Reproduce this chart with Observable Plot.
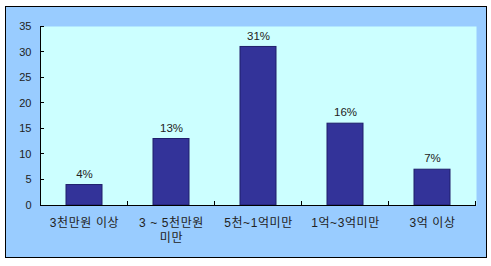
<!DOCTYPE html>
<html><head><meta charset="utf-8">
<script src="https://cdn.jsdelivr.net/npm/d3@7"></script>
<script src="https://cdn.jsdelivr.net/npm/@observablehq/plot@0.6"></script>
<style>
body{margin:0;background:#fff;}
#wrap{position:relative;width:491px;height:266px;}
#bg{position:absolute;left:5px;top:6px;width:482px;height:252px;box-sizing:border-box;border:1px solid #000;background:#99ccff;}
#chart{position:absolute;left:0;top:0;}
</style></head><body>
<div id="wrap"><div id="bg"></div><div id="chart"></div></div>
<script>
const categories = ["3천만원 이상", "3 ~ 5천만원 미만", "5천~1억미만", "1억~3억미만", "3억 이상"];
const tickLabels = ["3천만원 이상", "3 ~ 5천만원\n미만", "5천~1억미만", "1억~3억미만", "3억 이상"];
const values = [4, 13, 31, 16, 7];
const yTicks = [0, 5, 10, 15, 20, 25, 30, 35];

const data = categories.map((c, i) => ({category: c, value: values[i]}));

function axesMark(index, scales, values, dims) {
  const g = d3.create("svg:g").attr("stroke", "#000").attr("stroke-width", 1).attr("shape-rendering", "crispEdges");
  const x = scales.x, y = scales.y;
  const left = dims.marginLeft, right = dims.width - dims.marginRight;
  const y0 = y(0), yTop = y(yTicks[yTicks.length - 1]);
  g.append("line").attr("x1", left).attr("x2", left).attr("y1", yTop).attr("y2", y0);
  g.append("line").attr("x1", left).attr("x2", right).attr("y1", y0).attr("y2", y0);
  for (const t of yTicks) {
    g.append("line").attr("x1", left).attr("x2", left + 4).attr("y1", y(t)).attr("y2", y(t));
  }
  const bw = x.bandwidth ? x.bandwidth() : 0;
  const step = x.step ? x.step() : (x(categories[1]) - x(categories[0]));
  const half = (step - bw) / 2;
  const bounds = categories.map(c => x(c) - half);
  bounds.push(x(categories[categories.length - 1]) + bw + half);
  for (const b of bounds) {
    g.append("line").attr("x1", b).attr("x2", b).attr("y1", y0).attr("y2", y0 - 4);
  }
  return g.node();
}

const chart = Plot.plot({
  width: 491, height: 266,
  marginLeft: 40, marginRight: 15, marginTop: 26, marginBottom: 61,
  style: {background: "transparent", fontFamily: "'Liberation Sans', 'Noto Sans CJK KR', sans-serif", fontSize: "11px", color: "#222"},
  x: {domain: categories, paddingInner: 0.59, paddingOuter: 0.295, label: null},
  y: {domain: [0, 35], label: null},
  marks: [
    Plot.frame({fill: "#ccffff", stroke: "none"}),
    Plot.barY(data, {x: "category", y: "value", fill: "#333399", stroke: "#1f1f6b", strokeWidth: 1}),
    Plot.text(data, {x: "category", y: "value", text: d => d.value + "%", dy: -11, fontSize: 11.5, fill: "#222"}),
    Plot.axisY({ticks: yTicks, tickSize: 0, tickPadding: 9, label: null, fontSize: 11}),
    Plot.axisX({tickSize: 0, tickPadding: 11, tickFormat: d => tickLabels[categories.indexOf(d)], label: null, lineHeight: 1.25, fontSize: 12}),
    axesMark
  ]
});
d3.select(chart).selectAll("g[aria-label='x-axis tick label'] text").style("letter-spacing", "0.6px");
document.getElementById("chart").appendChild(chart);
</script>
</body></html>
